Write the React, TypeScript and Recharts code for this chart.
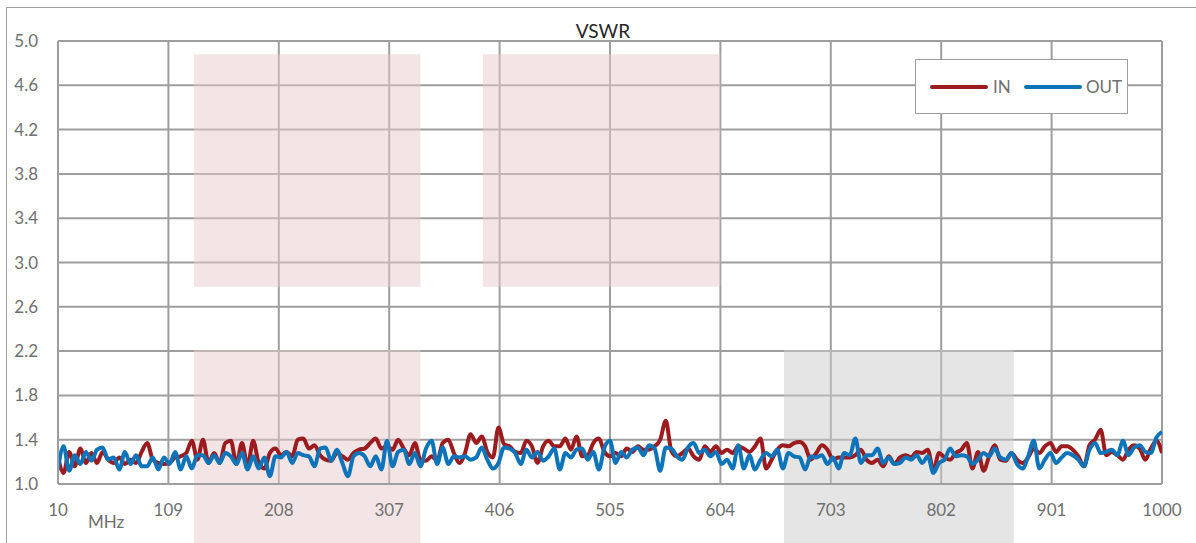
import { LineChart, Line, XAxis, YAxis, CartesianGrid, ReferenceArea } from "recharts";

// sweep: 10 MHz .. 1000 MHz, 5 MHz step
const START_MHZ = 10;
const STEP_MHZ = 5;

const inVswr = [
  1.25, 1.1, 1.29, 1.16, 1.32, 1.19, 1.28, 1.19, 1.29, 1.22,
  1.19, 1.24, 1.18, 1.22, 1.19, 1.29, 1.37, 1.22, 1.19, 1.18,
  1.19, 1.24, 1.25, 1.28, 1.39, 1.22, 1.4, 1.19, 1.28, 1.19,
  1.37, 1.39, 1.18, 1.37, 1.16, 1.39, 1.19, 1.14, 1.28, 1.32,
  1.26,
  1.29, 1.25, 1.4, 1.41, 1.32, 1.35, 1.26, 1.22, 1.21, 1.28,
  1.25, 1.22, 1.28, 1.31, 1.32, 1.37, 1.41, 1.32, 1.34, 1.31,
  1.4, 1.32, 1.26, 1.37, 1.22, 1.21, 1.25, 1.21, 1.37, 1.4,
  1.28, 1.19, 1.28, 1.45, 1.37, 1.43, 1.29, 1.24, 1.51, 1.36,
  1.34, 1.29, 1.28, 1.39, 1.34, 1.19, 1.34, 1.39, 1.34, 1.34,
  1.41, 1.31, 1.43, 1.25, 1.26, 1.37, 1.41, 1.29, 1.25, 1.28,
  1.25, 1.32, 1.29, 1.34, 1.31, 1.31, 1.34, 1.4, 1.57, 1.3,
  1.25, 1.28, 1.32, 1.25, 1.22, 1.34, 1.29, 1.34, 1.28, 1.31,
  1.28,
  1.34, 1.32, 1.29, 1.34, 1.41, 1.14, 1.22, 1.31, 1.35, 1.34,
  1.37, 1.38, 1.34, 1.22, 1.28, 1.35, 1.31, 1.22, 1.24, 1.24,
  1.24, 1.26, 1.31, 1.22, 1.19, 1.22, 1.16, 1.25, 1.18, 1.24,
  1.26, 1.24, 1.29, 1.28, 1.31, 1.12, 1.28, 1.24, 1.22, 1.28,
  1.31, 1.37, 1.14, 1.29, 1.12, 1.25, 1.35, 1.22, 1.21, 1.28,
  1.22, 1.19, 1.24, 1.32, 1.28, 1.34, 1.37, 1.29, 1.34, 1.34,
  1.31, 1.25, 1.16, 1.35, 1.4, 1.49, 1.26, 1.29, 1.26, 1.22,
  1.31, 1.35, 1.32, 1.22, 1.32, 1.39, 1.28,
];

const outVswr = [
  1.13, 1.34, 1.12, 1.26, 1.18, 1.29, 1.21, 1.31, 1.33, 1.22,
  1.24, 1.13, 1.29, 1.18, 1.26, 1.16, 1.16, 1.24, 1.13, 1.24,
  1.18, 1.29, 1.13, 1.25, 1.14, 1.26, 1.26, 1.19, 1.26, 1.19,
  1.28, 1.25, 1.18, 1.28, 1.13, 1.25, 1.14, 1.24, 1.07, 1.25,
  1.24,
  1.29, 1.19, 1.28, 1.26, 1.25, 1.16, 1.32, 1.33, 1.21, 1.31,
  1.19, 1.07, 1.25, 1.28, 1.25, 1.16, 1.25, 1.13, 1.39, 1.16,
  1.29, 1.31, 1.18, 1.28, 1.16, 1.32, 1.39, 1.18, 1.33, 1.18,
  1.25, 1.24, 1.25, 1.22, 1.24, 1.33, 1.22, 1.14, 1.19, 1.33,
  1.32, 1.28, 1.18, 1.31, 1.24, 1.29, 1.21, 1.25, 1.32, 1.13,
  1.28, 1.24, 1.31, 1.32, 1.22, 1.29, 1.13, 1.33, 1.39, 1.19,
  1.29, 1.24, 1.31, 1.33, 1.26, 1.35, 1.32, 1.12, 1.33, 1.32,
  1.25, 1.22, 1.33, 1.37, 1.28, 1.31, 1.25, 1.29, 1.18, 1.22,
  1.14,
  1.35, 1.14, 1.26, 1.13, 1.22, 1.28, 1.25, 1.31, 1.14, 1.28,
  1.25, 1.24, 1.13, 1.25, 1.24, 1.26, 1.18, 1.24, 1.14, 1.28,
  1.26, 1.41, 1.19, 1.26, 1.26, 1.32, 1.19, 1.24, 1.18, 1.19,
  1.24, 1.22, 1.26, 1.19, 1.25, 1.1, 1.19, 1.22, 1.32, 1.25,
  1.26, 1.25, 1.18, 1.22, 1.28, 1.25, 1.32, 1.24, 1.22, 1.28,
  1.18, 1.14, 1.25, 1.39, 1.14, 1.22, 1.28, 1.19, 1.24, 1.28,
  1.26, 1.22, 1.16, 1.31, 1.37, 1.28, 1.29, 1.31, 1.26, 1.39,
  1.26, 1.33, 1.35, 1.29, 1.28, 1.42, 1.47,
];

const xTicks = [10, 109, 208, 307, 406, 505, 604, 703, 802, 901, 1000];
const yTicks = [1.0, 1.4, 1.8, 2.2, 2.6, 3.0, 3.4, 3.8, 4.2, 4.6, 5.0];

// shaded limit zones [x1, x2, y1, y2]
const pinkZones = [
  [132, 335, 2.78, 4.88],
  [391, 604, 2.78, 4.88],
  [132, 335, 0.4, 2.21],
];
const grayZones = [[661, 867, 0.4, 2.21]];

const rows = inVswr.map((v, i) => ({
  freq: START_MHZ + i * STEP_MHZ,
  in: v,
  out: outVswr[i],
}));

const GRID = "#9e9e9e";
const TICK = "#6f6f6f";
const RED = "#9b1b1e";
const BLUE = "#0e74ba";
const FONT = "Lato, 'Open Sans', sans-serif";

export default function App() {
  const tickStyle = { fill: TICK, fontSize: 17, fontFamily: FONT };
  return (
    <div
      style={{
        position: "fixed",
        left: 0,
        top: 0,
        width: 1196,
        height: 543,
        overflow: "hidden",
        background: "#fff",
        fontFamily: FONT,
      }}
    >
      <div
        style={{
          position: "absolute",
          left: 6,
          top: 7,
          width: 2000,
          height: 2000,
          borderTop: `1.5px solid ${GRID}`,
          borderLeft: `1.5px solid ${GRID}`,
        }}
      />
      <div style={{ position: "absolute", left: 0, top: 0 }}>
        <LineChart width={1196} height={543} data={rows} margin={{ top: 41, right: 34, bottom: 0, left: 10 }}>
          {pinkZones.map(([x1, x2, y1, y2], i) => (
            <ReferenceArea
              key={"p" + i}
              x1={x1}
              x2={x2}
              y1={y1}
              y2={y2}
              fill="#e8cccc"
              fillOpacity={0.5}
              stroke="none"
              ifOverflow="visible"
            />
          ))}
          {grayZones.map(([x1, x2, y1, y2], i) => (
            <ReferenceArea
              key={"g" + i}
              x1={x1}
              x2={x2}
              y1={y1}
              y2={y2}
              fill="#cccccc"
              fillOpacity={0.5}
              stroke="none"
              ifOverflow="visible"
            />
          ))}
          <CartesianGrid stroke={GRID} strokeWidth={2} />
          <XAxis
            dataKey="freq"
            type="number"
            domain={[10, 1000]}
            ticks={xTicks}
            interval={0}
            allowDataOverflow
            height={59}
            tickSize={0}
            tickMargin={20}
            tick={tickStyle}
            axisLine={{ stroke: GRID, strokeWidth: 2 }}
          />
          <YAxis
            type="number"
            domain={[1, 5]}
            ticks={yTicks}
            interval={0}
            allowDataOverflow
            width={48}
            tickSize={0}
            tickMargin={20}
            tick={tickStyle}
            tickFormatter={(v: number) => v.toFixed(1)}
            axisLine={{ stroke: GRID, strokeWidth: 2 }}
          />
          <Line
            dataKey="in"
            type="monotone"
            stroke={RED}
            strokeWidth={4}
            strokeLinejoin="round"
            dot={false}
            activeDot={false}
            isAnimationActive={false}
          />
          <Line
            dataKey="out"
            type="monotone"
            stroke={BLUE}
            strokeWidth={4}
            strokeLinejoin="round"
            dot={false}
            activeDot={false}
            isAnimationActive={false}
          />
        </LineChart>
      </div>

      <div
        style={{
          position: "absolute",
          left: 0,
          top: 21,
          width: 1206,
          textAlign: "center",
          fontSize: 19,
          lineHeight: "19px",
          color: "#262626",
        }}
      >
        VSWR
      </div>

      <div
        style={{
          position: "absolute",
          left: 88,
          top: 513,
          fontSize: 17,
          lineHeight: "17px",
          color: TICK,
        }}
      >
        MHz
      </div>

      <div
        style={{
          position: "absolute",
          left: 915,
          top: 59,
          width: 211,
          height: 53,
          border: `1.5px solid ${GRID}`,
          background: "#fff",
          color: TICK,
          fontSize: 17,
        }}
      >
        <div style={{ position: "absolute", left: 14, top: 25, width: 58, height: 3.5, borderRadius: 2, background: RED }} />
        <div style={{ position: "absolute", left: 77, top: 18, lineHeight: "17px" }}>IN</div>
        <div style={{ position: "absolute", left: 108, top: 25, width: 58, height: 3.5, borderRadius: 2, background: BLUE }} />
        <div style={{ position: "absolute", left: 170, top: 18, lineHeight: "17px" }}>OUT</div>
      </div>
    </div>
  );
}
